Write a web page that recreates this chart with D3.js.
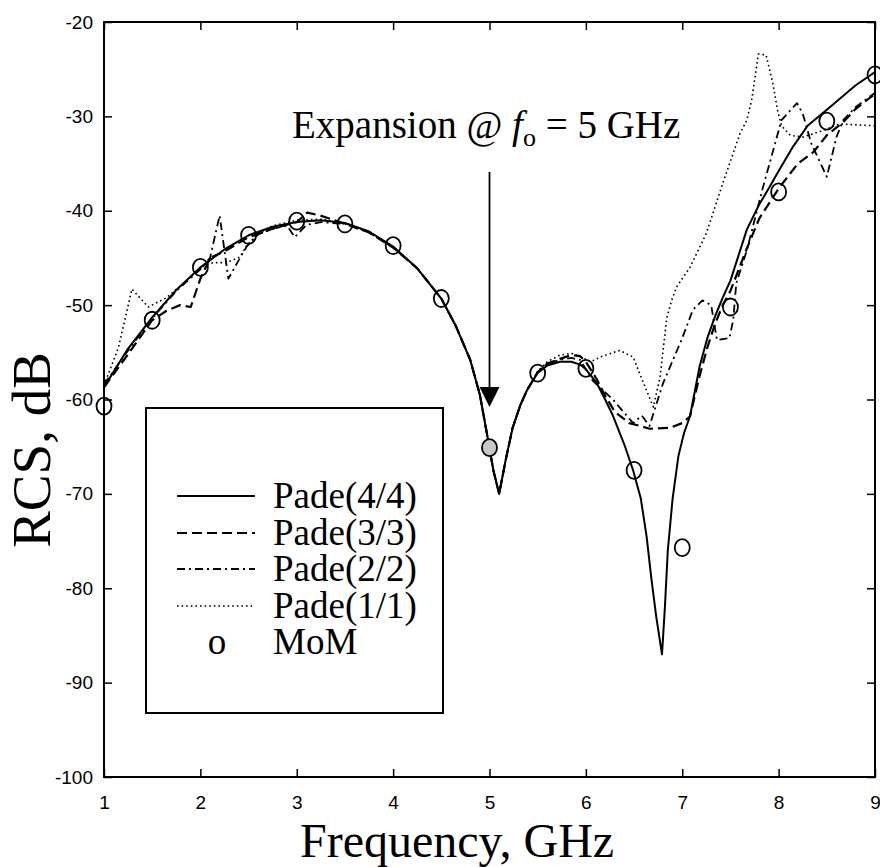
<!DOCTYPE html>
<html>
<head>
<meta charset="utf-8">
<script src="https://cdn.jsdelivr.net/npm/d3@7"></script>
<style>
  body { margin: 0; background: #fff; }
  .tick text { font-family: "Liberation Sans", Arial, sans-serif; font-size: 19px; fill: #000; }
  .serif { font-family: "Liberation Serif", "Times New Roman", serif; fill: #000; }
</style>
</head>
<body>
<svg id="chart" width="880" height="867"></svg>
<script>
// Data
const xTicks = [1, 2, 3, 4, 5, 6, 7, 8, 9];
const yTicks = [-100, -90, -80, -70, -60, -50, -40, -30, -20];

const pade44 = [
  [1.0, -58.7], [1.25, -54.6], [1.5, -51.3], [1.75, -48.4], [2.0, -46.0], [2.25, -44.1],
  [2.5, -42.6], [2.75, -41.7], [3.0, -41.2], [3.25, -41.0], [3.5, -41.3], [3.75, -42.2],
  [4.0, -43.8], [4.25, -46.1], [4.5, -49.3], [4.65, -52.2], [4.8, -55.8], [4.9, -59.5],
  [4.98, -64.0], [5.04, -67.5], [5.1, -70.0], [5.17, -66.3], [5.24, -63.0], [5.32, -60.6],
  [5.39, -59.0], [5.5, -57.2], [5.6, -56.4], [5.73, -56.0], [5.85, -56.0], [5.94, -56.3],
  [6.0, -56.8], [6.11, -58.2], [6.2, -60.0], [6.28, -61.7], [6.4, -64.8], [6.49, -67.5],
  [6.57, -70.5], [6.63, -74.5], [6.68, -79.0], [6.73, -83.0], [6.79, -87.0], [6.82, -82.0],
  [6.85, -76.0], [6.9, -70.5], [6.96, -66.0], [7.02, -63.5], [7.08, -61.8], [7.18, -56.5],
  [7.26, -53.5], [7.34, -51.2], [7.42, -49.2], [7.5, -47.4], [7.67, -42.0], [7.8, -39.3],
  [7.9, -37.6], [8.0, -35.8], [8.15, -33.2], [8.3, -31.0], [8.5, -29.3], [8.65, -28.0],
  [8.8, -26.7], [9.0, -25.3]
];

const pade33 = [
  [1.0, -58.7], [1.25, -55.2], [1.5, -51.6], [1.65, -50.6], [1.79, -50.0], [1.9, -50.2],
  [2.0, -47.2], [2.1, -45.0], [2.25, -44.3], [2.5, -42.8], [2.75, -41.9], [3.0, -41.2],
  [3.11, -40.2], [3.24, -40.5], [3.42, -41.1], [3.5, -41.4], [3.75, -42.3], [4.0, -43.9],
  [4.25, -46.1], [4.5, -49.3], [4.65, -52.2], [4.8, -55.8], [4.9, -59.5], [4.98, -64.0],
  [5.04, -67.5], [5.1, -70.0], [5.17, -66.3], [5.24, -63.0], [5.32, -60.6], [5.39, -59.0],
  [5.5, -57.1], [5.6, -56.2], [5.73, -55.7], [5.85, -55.3], [5.94, -55.4], [6.0, -56.0],
  [6.11, -57.8], [6.2, -59.6], [6.3, -61.3], [6.45, -62.5], [6.56, -62.8], [6.66, -63.1],
  [6.87, -63.0], [7.0, -62.5], [7.08, -61.8], [7.18, -57.5], [7.26, -54.5], [7.34, -52.0],
  [7.42, -50.0], [7.5, -48.5], [7.67, -44.0], [7.8, -40.8], [8.01, -37.5], [8.2, -35.0],
  [8.36, -33.8], [8.5, -32.0], [8.67, -30.6], [8.8, -29.2], [9.0, -27.6]
];

const pade22 = [
  [1.0, -58.4], [1.25, -54.8], [1.5, -51.4], [1.75, -48.5], [2.0, -46.2], [2.1, -45.0],
  [2.2, -40.5], [2.29, -47.2], [2.4, -45.2], [2.48, -43.8], [2.6, -42.5], [2.75, -41.9],
  [2.9, -41.6], [2.98, -42.8], [3.1, -41.5], [3.25, -41.2], [3.5, -41.4], [3.75, -42.3],
  [4.0, -43.9], [4.25, -46.1], [4.5, -49.3], [4.65, -52.2], [4.8, -55.8], [4.9, -59.5],
  [4.98, -64.0], [5.04, -67.5], [5.1, -70.0], [5.17, -66.3], [5.24, -63.0], [5.32, -60.6],
  [5.39, -59.0], [5.5, -57.1], [5.6, -56.2], [5.73, -55.8], [5.85, -55.6], [5.94, -55.8],
  [6.07, -58.0], [6.28, -60.0], [6.49, -62.5], [6.58, -61.7], [6.66, -62.8], [6.8, -58.3],
  [6.9, -55.9], [7.0, -53.5], [7.11, -50.5], [7.21, -49.5], [7.3, -50.0], [7.36, -53.7],
  [7.49, -53.5], [7.53, -51.5], [7.56, -47.7], [7.67, -44.2], [7.83, -37.8], [8.03, -30.4],
  [8.19, -28.6], [8.25, -29.7], [8.34, -32.9], [8.5, -36.4], [8.6, -32.2], [8.67, -30.4],
  [8.8, -29.0], [9.0, -27.5]
];

const pade11 = [
  [1.0, -58.5], [1.15, -54.5], [1.29, -48.3], [1.46, -50.2], [1.65, -49.2], [1.86, -47.4],
  [2.0, -46.0], [2.13, -45.5], [2.27, -45.5], [2.41, -44.9], [2.48, -43.7], [2.6, -42.4],
  [2.75, -41.6], [3.0, -41.0], [3.25, -40.9], [3.5, -41.3], [3.75, -42.2], [4.0, -43.8],
  [4.25, -46.1], [4.5, -49.3], [4.65, -52.2], [4.8, -55.8], [4.9, -59.5], [4.98, -64.0],
  [5.04, -67.5], [5.1, -70.0], [5.17, -66.3], [5.24, -63.0], [5.32, -60.6], [5.39, -59.0],
  [5.5, -57.0], [5.6, -56.0], [5.73, -55.3], [5.85, -55.1], [5.95, -55.5], [6.05, -56.0],
  [6.15, -55.5], [6.35, -54.8], [6.49, -55.5], [6.6, -58.3], [6.7, -60.8], [6.77, -57.6],
  [6.84, -51.3], [6.89, -49.5], [6.94, -48.1], [7.08, -46.0], [7.25, -42.4], [7.42, -37.1],
  [7.6, -31.8], [7.67, -30.4], [7.72, -28.3], [7.79, -23.4], [7.87, -23.5], [7.94, -26.5],
  [7.99, -29.4], [8.03, -31.0], [8.12, -32.0], [8.25, -32.2], [8.46, -31.5], [8.63, -30.8],
  [9.0, -31.0]
];

const momFreq = [1, 1.5, 2, 2.5, 3, 3.5, 4, 4.5, 5, 5.5, 6, 6.5, 7, 7.5, 8, 8.5, 9];
const momRcs = [-60.7, -51.6, -46.0, -42.6, -41.1, -41.4, -43.7, -49.3, -65.1, -57.2, -56.7, -67.5, -75.7, -50.2, -38.0, -30.5, -25.6];
const expansionFreq = 5;

const series = [
  { name: 'Pade(4/4)', data: pade44, dash: null, width: 2 },
  { name: 'Pade(3/3)', data: pade33, dash: '10,5', width: 2.2 },
  { name: 'Pade(2/2)', data: pade22, dash: '8,4,2,4', width: 1.8 },
  { name: 'Pade(1/1)', data: pade11, dash: '1.6,3', width: 1.6 }
];

const svg = d3.select('#chart');
const m = { left: 104, right: 875, top: 22, bottom: 777 };

const x = d3.scaleLinear().domain([1, 9]).range([m.left, m.right]);
const y = d3.scaleLinear().domain([-100, -20]).range([m.bottom, m.top]);

svg.append('defs').append('clipPath').attr('id', 'plot')
  .append('rect').attr('x', m.left).attr('y', m.top)
  .attr('width', m.right - m.left).attr('height', m.bottom - m.top);

// axes with inward ticks
svg.append('g').attr('transform', `translate(0,${m.bottom})`)
  .call(d3.axisBottom(x).tickValues(xTicks).tickSize(-8).tickPadding(19).tickFormat(d => String(d)))
  .call(g => g.select('.domain').remove());
svg.append('g').attr('transform', `translate(${m.left},0)`)
  .call(d3.axisLeft(y).tickValues(yTicks).tickSize(-8).tickPadding(11).tickFormat(d => String(d)))
  .call(g => g.select('.domain').remove());
svg.append('g').attr('transform', `translate(0,${m.top})`)
  .call(d3.axisTop(x).tickValues(xTicks).tickSize(-8).tickFormat(''))
  .call(g => g.select('.domain').remove());
svg.append('g').attr('transform', `translate(${m.right},0)`)
  .call(d3.axisRight(y).tickValues(yTicks).tickSize(-8).tickFormat(''))
  .call(g => g.select('.domain').remove());
svg.selectAll('.tick line').attr('stroke', '#000').attr('stroke-width', 1.5);

svg.append('rect')
  .attr('x', m.left).attr('y', m.top).attr('width', m.right - m.left).attr('height', m.bottom - m.top)
  .attr('fill', 'none').attr('stroke', '#000').attr('stroke-width', 2);

// curves
const line = d3.line().x(d => x(d[0])).y(d => y(d[1]));
const plot = svg.append('g').attr('clip-path', 'url(#plot)');
series.forEach(s => {
  plot.append('path')
    .datum(s.data)
    .attr('d', line)
    .attr('fill', 'none')
    .attr('stroke', '#000')
    .attr('stroke-width', s.width)
    .attr('stroke-dasharray', s.dash)
    .attr('stroke-linejoin', 'round');
});

// MoM points
svg.append('g').selectAll('ellipse')
  .data(momFreq.map((f, i) => [f, momRcs[i]]))
  .join('ellipse')
  .attr('cx', d => x(d[0]))
  .attr('cy', d => y(d[1]))
  .attr('rx', 7.5)
  .attr('ry', 8.5)
  .attr('fill', d => d[0] === expansionFreq ? '#c8c8c8' : 'none')
  .attr('stroke', '#000')
  .attr('stroke-width', 1.8);

// annotation
const note = svg.append('text').attr('class', 'serif')
  .attr('x', 292).attr('y', 138)
  .style('font-size', '39px');
note.append('tspan').text('Expansion @ ');
note.append('tspan').style('font-style', 'italic').text('f');
note.append('tspan').attr('dy', 8).style('font-size', '26px').text('o');
note.append('tspan').attr('dy', -8).text(' = 5 GHz');

svg.append('line')
  .attr('x1', x(expansionFreq)).attr('x2', x(expansionFreq))
  .attr('y1', 172).attr('y2', 390)
  .attr('stroke', '#000').attr('stroke-width', 1.8);
svg.append('path')
  .attr('d', `M${x(expansionFreq) - 10},387 L${x(expansionFreq) + 10},387 L${x(expansionFreq)},407 Z`)
  .attr('fill', '#000');

// legend
const legend = svg.append('g');
legend.append('rect')
  .attr('x', 146).attr('y', 408).attr('width', 297).attr('height', 305)
  .attr('fill', '#fff').attr('stroke', '#000').attr('stroke-width', 2);
const rowY = [496, 533, 569, 606, 642];
series.forEach((s, i) => {
  legend.append('line')
    .attr('x1', 177).attr('x2', 255).attr('y1', rowY[i]).attr('y2', rowY[i])
    .attr('stroke', '#000').attr('stroke-width', s.width)
    .attr('stroke-dasharray', s.dash);
  legend.append('text').attr('class', 'serif')
    .attr('x', 273).attr('y', rowY[i] + 12)
    .style('font-size', '37px')
    .text(s.name);
});
legend.append('text').attr('class', 'serif')
  .attr('x', 217).attr('y', rowY[4] + 12)
  .attr('text-anchor', 'middle')
  .style('font-size', '37px')
  .text('o');
legend.append('text').attr('class', 'serif')
  .attr('x', 273).attr('y', rowY[4] + 12)
  .style('font-size', '37px')
  .text('MoM');

// axis titles
svg.append('text').attr('class', 'serif')
  .attr('x', 300).attr('y', 857)
  .style('font-size', '48px')
  .text('Frequency, GHz');
svg.append('text').attr('class', 'serif')
  .attr('transform', 'translate(50,450) rotate(-90)')
  .attr('text-anchor', 'middle')
  .style('font-size', '55px')
  .text('RCS, dB');
</script>
</body>
</html>
